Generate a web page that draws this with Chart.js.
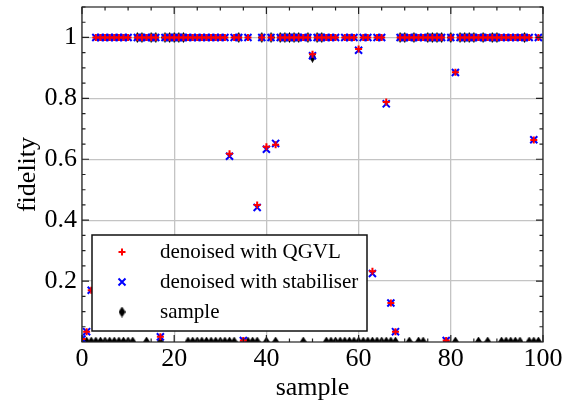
<!DOCTYPE html>
<html>
<head>
<meta charset="utf-8">
<script src="https://cdn.jsdelivr.net/npm/chart.js@4.4.0/dist/chart.umd.min.js"></script>
<style>
  html, body { margin: 0; padding: 0; background: #fff; }
</style>
</head>
<body>
<canvas id="fidChart" width="576" height="401"></canvas>
<script>
// ---------------- data ----------------
const xTicks = [0, 20, 40, 60, 80, 100];
const yTicks = [0.2, 0.4, 0.6, 0.8, 1];
const seriesLabels = ["denoised with QGVL", "denoised with stabiliser", "sample"];

// one value per sample index 0..99
const qgvl = [
  0.01, 0.034, 0.17, 1, 1, 1, 1, 1, 1, 1,
  1, 0.2, 1, 1, 1, 1, 1, 0.017, 1, 1,
  1, 1, 1, 1, 1, 1, 1, 1, 1, 1,
  1, 1, 0.618, 1, 1, 0.005, 1, 0.2, 0.45, 1,
  0.641, 1, 0.648, 1, 1, 1, 1, 1, 1, 1,
  0.945, 1, 1, 1, 1, 1, 0.2, 1, 1, 1,
  0.962, 1, 1, 0.232, 1, 1, 0.788, 0.128, 0.034, 1,
  1, 1, 1, 1, 1, 1, 1, 1, 1, 0.005,
  1, 0.886, 1, 1, 1, 1, 1, 1, 1, 1,
  1, 1, 1, 1, 1, 1, 1, 1, 0.663, 1
];
const stabiliser = [
  0.01, 0.034, 0.17, 1, 1, 1, 1, 1, 1, 1,
  1, 0.2, 1, 1, 1, 1, 1, 0.017, 1, 1,
  1, 1, 1, 1, 1, 1, 1, 1, 1, 1,
  1, 1, 0.61, 1, 1, 0.005, 1, 0.2, 0.442, 1,
  0.633, 1, 0.652, 1, 1, 1, 1, 1, 1, 1,
  0.94, 1, 1, 1, 1, 1, 0.2, 1, 1, 1,
  0.958, 1, 1, 0.225, 1, 1, 0.782, 0.128, 0.034, 1,
  1, 1, 1, 1, 1, 1, 1, 1, 1, 0.005,
  1, 0.885, 1, 1, 1, 1, 1, 1, 1, 1,
  1, 1, 1, 1, 1, 1, 1, 1, 0.664, 1
];
const sample = [
  0, 0, 0, 0, 0, 0, 0, 0, 0, 0,
  0, 0, 1, 1, 0, 1, 1, 0, 1, 1,
  1, 1, 1, 0, 0, 0, 0, 0, 0, 0,
  0, 0, 0, 0, 1, 0, 0, 0, 0, 1,
  0, 1, 0, 1, 1, 1, 1, 1, 0, 1,
  0.935, 1, 1, 0, 0, 0, 0, 0, 0, 0,
  0, 0, 0, 0, 0, 0, 0, 0, 0, 1,
  1, 0, 1, 0, 0, 1, 1, 1, 1, 0,
  1, 0, 1, 1, 1, 1, 0, 1, 0, 1,
  1, 0, 0, 0, 0, 0, 1, 0, 0, 0
];

// ---------------- styling ----------------
const FONT = "'Liberation Serif', 'Times New Roman', serif";

// thin black diamond marker (matplotlib 'd')
const diamond = document.createElement("canvas");
diamond.width = 7;
diamond.height = 11;
(function () {
  const c = diamond.getContext("2d");
  c.fillStyle = "#000";
  c.beginPath();
  c.moveTo(3.5, 0);
  c.lineTo(7, 5.5);
  c.lineTo(3.5, 11);
  c.lineTo(0, 5.5);
  c.closePath();
  c.fill();
})();

const toPoints = (arr) => arr.map((v, i) => ({ x: i, y: v }));

// frame, inward ticks and the boxed legend drawn on top of the points
const framePlugin = {
  id: "frame",
  afterDraw(chart) {
    const ctx = chart.ctx;
    const a = chart.chartArea;
    const xs = chart.scales.x, ys = chart.scales.y;
    ctx.save();
    ctx.strokeStyle = "#222";
    ctx.lineWidth = 1.2;

    // minor + major ticks
    ctx.beginPath();
    for (let v = 0; v <= 100; v += 5) {
      const px = xs.getPixelForValue(v);
      const len = v % 20 === 0 ? 7 : 3.5;
      ctx.moveTo(px, a.bottom); ctx.lineTo(px, a.bottom - len);
      ctx.moveTo(px, a.top); ctx.lineTo(px, a.top + len);
    }
    for (let k = 1; k <= 22; k++) {
      const v = k * 0.05;
      const py = ys.getPixelForValue(v);
      const len = k % 4 === 0 ? 7 : 3.5;
      ctx.moveTo(a.left, py); ctx.lineTo(a.left + len, py);
      ctx.moveTo(a.right, py); ctx.lineTo(a.right - len, py);
    }
    ctx.stroke();
    ctx.strokeRect(a.left, a.top, a.right - a.left, a.bottom - a.top);

    // legend
    const lx = 92, ly = 235, lw = 275, lh = 96;
    ctx.fillStyle = "#fff";
    ctx.fillRect(lx, ly, lw, lh);
    ctx.strokeStyle = "#111";
    ctx.lineWidth = 1.5;
    ctx.strokeRect(lx, ly, lw, lh);

    const rows = [252, 282, 312];
    const mx = 122;
    // plus
    ctx.strokeStyle = "#ff0000";
    ctx.lineWidth = 2;
    ctx.beginPath();
    ctx.moveTo(mx - 3.5, rows[0]); ctx.lineTo(mx + 3.5, rows[0]);
    ctx.moveTo(mx, rows[0] - 3.5); ctx.lineTo(mx, rows[0] + 3.5);
    ctx.stroke();
    // x
    ctx.strokeStyle = "#0000ff";
    ctx.beginPath();
    ctx.moveTo(mx - 3.5, rows[1] - 3.5); ctx.lineTo(mx + 3.5, rows[1] + 3.5);
    ctx.moveTo(mx - 3.5, rows[1] + 3.5); ctx.lineTo(mx + 3.5, rows[1] - 3.5);
    ctx.stroke();
    // diamond
    ctx.drawImage(diamond, mx - 3.5, rows[2] - 5.5);

    ctx.fillStyle = "#000";
    ctx.font = "21px " + FONT;
    ctx.textBaseline = "middle";
    seriesLabels.forEach((t, i) => ctx.fillText(t, 160, rows[i]));
    ctx.restore();
  }
};

const ctx = document.getElementById("fidChart").getContext("2d");

new Chart(ctx, {
  type: "scatter",
  data: {
    datasets: [
      {
        label: seriesLabels[0],
        data: toPoints(qgvl),
        pointStyle: "cross",
        pointRadius: 3.5,
        pointBorderWidth: 2,
        borderColor: "#ff0000",
        backgroundColor: "#ff0000",
        order: 0,
        clip: 0
      },
      {
        label: seriesLabels[1],
        data: toPoints(stabiliser),
        pointStyle: "crossRot",
        pointRadius: 5,
        pointBorderWidth: 2,
        borderColor: "#0000ff",
        backgroundColor: "#0000ff",
        order: 1,
        clip: 0
      },
      {
        label: seriesLabels[2],
        data: toPoints(sample),
        pointStyle: diamond,
        order: 2,
        clip: 0
      }
    ]
  },
  options: {
    responsive: false,
    animation: false,
    layout: { padding: { top: 4, right: 33, left: 0, bottom: 0 } },
    plugins: {
      legend: { display: false },
      tooltip: { enabled: false }
    },
    scales: {
      x: {
        type: "linear",
        min: 0,
        max: 100,
        afterBuildTicks: (s) => { s.ticks = xTicks.map((v) => ({ value: v })); },
        afterFit: (s) => { s.height = 59; s.paddingLeft = 0; s.paddingRight = 0; },
        ticks: { color: "#000", font: { family: FONT, size: 26 }, padding: 2, maxRotation: 0 },
        grid: { color: "#c4c4c4", lineWidth: 1.3, drawTicks: false },
        border: { display: false },
        title: {
          display: true,
          text: "sample",
          color: "#000",
          font: { family: FONT, size: 26 },
          padding: { top: 0, bottom: -3 }
        }
      },
      y: {
        type: "linear",
        min: 0,
        max: 1.1,
        afterBuildTicks: (s) => { s.ticks = yTicks.map((v) => ({ value: v })); },
        afterFit: (s) => { s.width = 82; s.paddingTop = 0; s.paddingBottom = 0; },
        ticks: {
          color: "#000",
          font: { family: FONT, size: 26 },
          padding: 5,
          callback: (v) => String(Math.round(v * 10) / 10)
        },
        grid: { color: "#c4c4c4", lineWidth: 1.3, drawTicks: false },
        border: { display: false },
        title: {
          display: true,
          text: "fidelity",
          color: "#000",
          font: { family: FONT, size: 26 },
          padding: { top: 13, bottom: 0 }
        }
      }
    }
  },
  plugins: [framePlugin]
});
</script>
</body>
</html>
